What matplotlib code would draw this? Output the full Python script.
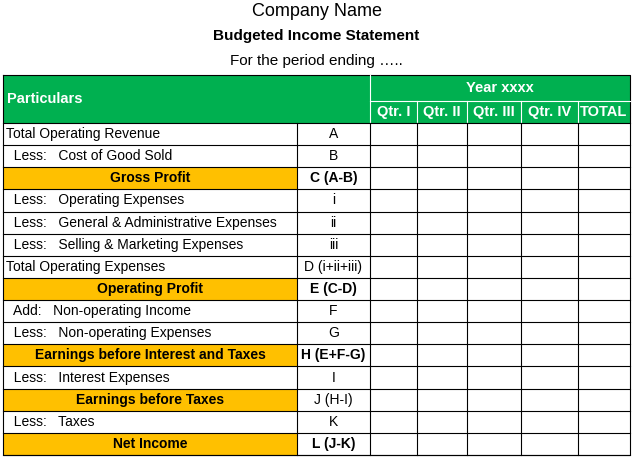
import matplotlib
matplotlib.use("Agg")
import matplotlib.pyplot as plt
from matplotlib.patches import Rectangle

plt.rcParams['font.family'] = ['Liberation Sans', 'DejaVu Sans']

title = "Company Name"
subtitle = "Budgeted Income Statement"
period = "For the period ending ….."
header_left = "Particulars"
header_year = "Year xxxx"
quarters = ["Qtr. I", "Qtr. II", "Qtr. III", "Qtr. IV", "TOTAL"]
particulars = ["Total Operating Revenue", "  Less:   Cost of Good Sold", "Gross Profit",
               "  Less:   Operating Expenses", "  Less:   General & Administrative Expenses",
               "  Less:   Selling & Marketing Expenses", "Total Operating Expenses",
               "Operating Profit", "  Add:   Non-operating Income", "  Less:   Non-operating Expenses",
               "Earnings before Interest and Taxes", "  Less:   Interest Expenses",
               "Earnings before Taxes", "  Less:   Taxes", "Net Income"]
codes = ["A", "B", "C (A-B)", "i", "ii", "iii", "D (i+ii+iii)", "E (C-D)", "F", "G",
         "H (E+F-G)", "I", "J (H-I)", "K", "L (J-K)"]
highlight = [False, False, True, False, False, False, False, True, False, False, True, False, True, False, True]
code_bold = [False, False, True, False, False, False, False, True, False, False, True, False, False, False, True]

W, H = 633, 458
fig = plt.figure(figsize=(W/100, H/100), dpi=100)
ax = fig.add_axes([0, 0, 1, 1])
ax.set_xlim(0, W); ax.set_ylim(H, 0); ax.axis('off')

GREEN = "#00B050"; ORANGE = "#FFC000"
cols = [3, 297, 370, 417, 467, 521, 578, 630]
top, y1, y2, bottom = 75, 101, 123, 455
rh = (bottom - y2) / len(particulars)

ax.text(W/2, 11, title, ha='center', va='center', fontsize=13)
ax.text(W/2, 36, subtitle, ha='center', va='center', fontsize=11, fontweight='bold')
ax.text(W/2, 61, period, ha='center', va='center', fontsize=11)

ax.add_patch(Rectangle((cols[0], top), cols[-1]-cols[0], y2-top, color=GREEN, lw=0))
ax.text(cols[0]+4, (top+y2)/2, header_left, color='white', fontweight='bold', fontsize=10.5, va='center')
ax.text((cols[2]+cols[-1])/2, (top+y1)/2, header_year, color='white', fontweight='bold', fontsize=10.5, ha='center', va='center')
for i, q in enumerate(quarters):
    ax.text((cols[2+i]+cols[3+i])/2, (y1+y2)/2, q, color='white', fontweight='bold', fontsize=10.5, ha='center', va='center')

for r, (p, c, hl, cb) in enumerate(zip(particulars, codes, highlight, code_bold)):
    ya = y2 + r*rh; yc = ya + rh/2
    if hl:
        ax.add_patch(Rectangle((cols[0], ya), cols[1]-cols[0], rh, color=ORANGE, lw=0))
        ax.text((cols[0]+cols[1])/2, yc, p, ha='center', va='center', fontsize=10, fontweight='bold')
    else:
        ax.text(cols[0]+3, yc, p, ha='left', va='center', fontsize=10)
    ax.text((cols[1]+cols[2])/2, yc, c, ha='center', va='center', fontsize=10,
            fontweight='bold' if cb else 'normal')

lk = dict(color='black', lw=0.8)
# outer border
ax.plot([cols[0], cols[-1], cols[-1], cols[0], cols[0]], [top, top, bottom, bottom, top], **lk)
ax.plot([cols[2], cols[-1]], [y1, y1], color='white', lw=0.8)
for x in cols[3:-1]:
    ax.plot([x, x], [y1, y2], color='white', lw=0.8)
ax.plot([cols[2], cols[2]], [top, y2], color='white', lw=0.8)
for r in range(len(particulars)+1):
    y = y2 + r*rh
    ax.plot([cols[0], cols[-1]], [y, y], **lk)
for x in cols[1:-1]:
    ax.plot([x, x], [y2, bottom], **lk)

fig.savefig("out.png", dpi=100)
